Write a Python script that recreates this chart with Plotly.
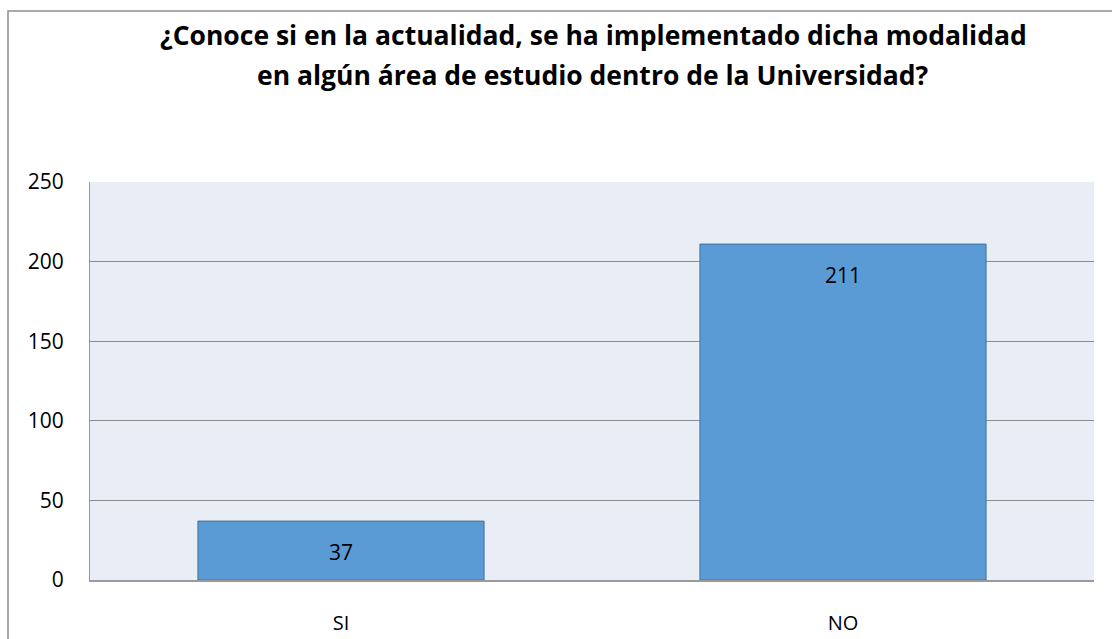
import plotly.graph_objects as go

categories = ["SI", "NO"]
values = [37, 211]
y_ticks = [0, 50, 100, 150, 200, 250]
title_lines = ["¿Conoce si en la actualidad, se ha implementado dicha modalidad",
               "en algún área de estudio dentro de la Universidad?"]

W, H = 1112, 639
L, R, T, B = 90, 18, 182, 59
pw, ph = W - L - R, H - T - B
FONT = "Open Sans, Lato, sans-serif"

fig = go.Figure()
fig.add_trace(go.Bar(
    x=categories, y=values, width=0.57,
    marker=dict(color="#5B9BD5", line=dict(color="#41719C", width=1)),
    hoverinfo="x+y",
))

for c, v in zip(categories, values):
    fig.add_annotation(x=c, y=v, text=str(v), showarrow=False, yanchor="top", yshift=-15,
                       font=dict(family=FONT, size=21, color="#000000"))

def px_x(p):
    return (p - L) / pw

def px_y(p):
    return (H - B - p) / ph

fig.add_shape(type="rect", xref="paper", yref="paper",
              x0=px_x(8), x1=px_x(1130), y0=px_y(660), y1=px_y(11),
              line=dict(color="#8F8F8F", width=1.5), fillcolor="rgba(0,0,0,0)", layer="below")

for line, yc in zip(title_lines, [35, 75]):
    fig.add_annotation(text=line, xref="paper", yref="paper", x=px_x(593), y=px_y(yc),
                       xanchor="center", yanchor="middle", showarrow=False,
                       font=dict(family=FONT, size=26.5, color="#000000", weight="bold"))

fig.update_layout(
    width=W, height=H,
    margin=dict(l=L, r=R, t=T, b=B, autoexpand=False),
    paper_bgcolor="#FFFFFF",
    plot_bgcolor="#E9EDF5",
    showlegend=False,
    font=dict(family=FONT, size=21, color="#000000"),
)
fig.update_xaxes(showline=True, linecolor="#9A9A9A", linewidth=1.5, ticks="", ticklabelstandoff=24,
                 tickfont=dict(size=20), showgrid=False, automargin=False)
fig.update_yaxes(range=[0, 250], tickvals=y_ticks, showline=True, linecolor="#9A9A9A", linewidth=1,
                 showgrid=True, gridcolor="#8C8C8C", gridwidth=1, ticks="", ticklabelstandoff=21,
                 tickfont=dict(size=21), zeroline=False, automargin=False)

fig.write_html("out.html", config={"displayModeBar": False},
               post_script="document.body.style.margin='0';document.body.style.overflow='hidden';")
